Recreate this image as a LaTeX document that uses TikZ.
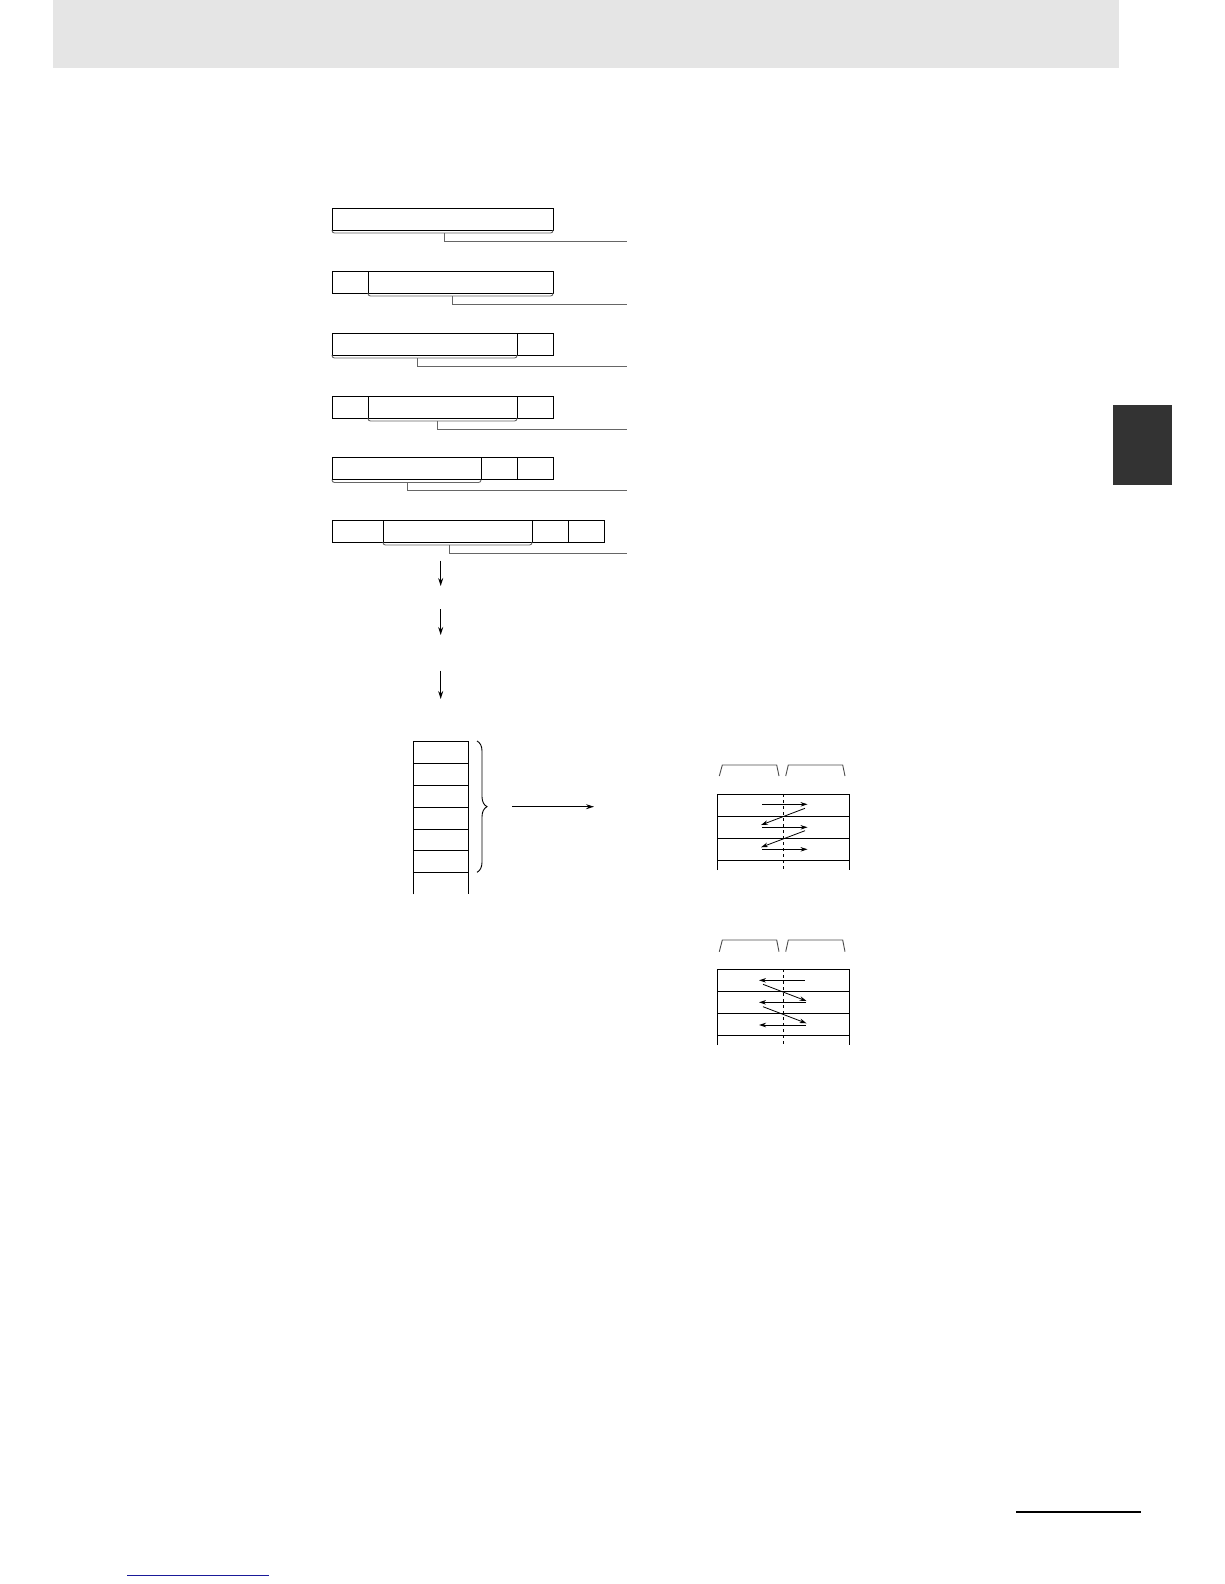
\documentclass[tikz,border=0pt]{standalone}
\usepackage{xcolor}
\usepackage{tikz}
\usetikzlibrary{positioning,arrows.meta,decorations.pathreplacing,calc}

\definecolor{headgray}{HTML}{E5E5E5}
\definecolor{tabgray}{HTML}{333333}
\definecolor{linkblue}{HTML}{1A1A99}

\begin{document}
\begin{tikzpicture}[x=1pt,y=-1pt,line width=1pt,
    cell/.style={draw,line width=1pt},
    brk/.style={draw=black!60,line width=0.9pt,rounded corners=2.5pt},
    lead/.style={draw=black!60,line width=0.9pt},
    flow/.style={-{Stealth[length=8pt,width=5pt]},line width=1pt},
    zig/.style={-{Stealth[length=7pt,width=4.5pt]},line width=0.8pt},
    bytecap/.style={draw=black!70,line width=0.9pt}]
    \useasboundingbox (0,0) rectangle (1224,1584);

    % Page frame
    \fill[headgray] (52.5,0) rectangle (1118.7,68.3);
    \fill[tabgray] (1113,405) rectangle (1172,485);
    \draw[line width=2pt] (1016,1512) -- (1141,1512);
    \draw[linkblue,line width=1pt] (127,1575) -- (269,1575);

    % Row 1
    \draw[cell] (332,208) rectangle (553,230);
    \draw[brk] (332,230) -- (332,233) -- (553,233) -- (553,230);
    \coordinate (t1) at (444,233);
    \coordinate (e1) at (627,241.5);
    \draw[lead] (t1) |- (e1);

    % Row 2
    \draw[cell] (332,271) rectangle (553,293);
    \draw[cell] (368,271) -- (368,293);
    \draw[brk] (368,293) -- (368,296) -- (553,296) -- (553,293);
    \coordinate (t2) at (452,296);
    \coordinate (e2) at (627,304.3);
    \draw[lead] (t2) |- (e2);

    % Row 3
    \draw[cell] (332,333) rectangle (553,355);
    \draw[cell] (517,333) -- (517,355);
    \draw[brk] (332,355) -- (332,358) -- (517,358) -- (517,355);
    \coordinate (t3) at (417,358);
    \coordinate (e3) at (627,366.7);
    \draw[lead] (t3) |- (e3);

    % Row 4
    \draw[cell] (332,396) rectangle (553,418);
    \draw[cell] (368,396) -- (368,418);
    \draw[cell] (517,396) -- (517,418);
    \draw[brk] (368,418) -- (368,421) -- (517,421) -- (517,418);
    \coordinate (t4) at (437,421);
    \coordinate (e4) at (627,429.3);
    \draw[lead] (t4) |- (e4);

    % Row 5
    \draw[cell] (332,457.5) rectangle (553,479.5);
    \draw[cell] (481,457.5) -- (481,479.5);
    \draw[cell] (517,457.5) -- (517,479.5);
    \draw[brk] (332,479.5) -- (332,482.5) -- (481,482.5) -- (481,479.5);
    \coordinate (t5) at (407,482.5);
    \coordinate (e5) at (627,490.5);
    \draw[lead] (t5) |- (e5);

    % Row 6
    \draw[cell] (332,520) rectangle (604,542);
    \draw[cell] (383,520) -- (383,542);
    \draw[cell] (532,520) -- (532,542);
    \draw[cell] (568,520) -- (568,542);
    \draw[brk] (383,542) -- (383,545) -- (532,545) -- (532,542);
    \coordinate (t6) at (449,545);
    \coordinate (e6) at (627,553.3);
    \draw[lead] (t6) |- (e6);

    % Down arrows
    \coordinate (d1s) at (440.7,560.7);
    \coordinate (d1e) at (440.7,586);
    \coordinate (d2s) at (440.7,609);
    \coordinate (d2e) at (440.7,635);
    \coordinate (d3s) at (440.7,670.7);
    \coordinate (d3e) at (440.7,699);
    \draw[flow] (d1s) -- (d1e);
    \draw[flow] (d2s) -- (d2e);
    \draw[flow] (d3s) -- (d3e);

    % Word stack
    \draw[cell] (413.3,894.3) -- (413.3,741) -- (468.3,741) -- (468.3,894.3);
    \draw[cell] (413.3,763) -- (468.3,763);
    \draw[cell] (413.3,785) -- (468.3,785);
    \draw[cell] (413.3,807) -- (468.3,807);
    \draw[cell] (413.3,829) -- (468.3,829);
    \draw[cell] (413.3,850.5) -- (468.3,850.5);
    \draw[cell] (413.3,872.3) -- (468.3,872.3);
    \draw[line width=0.9pt,decorate,decoration={brace,amplitude=10pt}]
        (477,741) -- (477,872.3);
    \coordinate (bs) at (512.3,806.7);
    \coordinate (be) at (594,806.7);
    \draw[flow] (bs) -- (be);

    % Byte order, upper table
    \draw[bytecap] (719.3,776) -- (722.3,765) -- (776.7,765) -- (779,776);
    \draw[bytecap] (785.7,776) -- (788.3,765) -- (842.7,765) -- (845,776);
    \draw[cell] (717.3,870) -- (717.3,794) -- (849.3,794) -- (849.3,870);
    \draw[cell] (717.3,816.3) -- (849.3,816.3);
    \draw[cell] (717.3,838.5) -- (849.3,838.5);
    \draw[cell] (717.3,860.3) -- (849.3,860.3);
    \draw[dashed,line width=0.9pt] (783.7,794) -- (783.7,870);
    \draw[zig] (762,804.3) -- (807.5,804.3);
    \draw[zig] (805,808.3) -- (761,825);
    \draw[zig] (762,827.3) -- (807.5,827.3);
    \draw[zig] (805,830.7) -- (761,847.3);
    \draw[zig] (762,849.3) -- (807.5,849.3);

    % Byte order, lower table
    \draw[bytecap] (719.3,951.7) -- (722.3,940) -- (776.7,940) -- (779,951.7);
    \draw[bytecap] (785.7,951.7) -- (788.3,940) -- (842.7,940) -- (845,951.7);
    \draw[cell] (717.3,1045) -- (717.3,969) -- (849.3,969) -- (849.3,1045);
    \draw[cell] (717.3,991.3) -- (849.3,991.3);
    \draw[cell] (717.3,1013.7) -- (849.3,1013.7);
    \draw[cell] (717.3,1035.3) -- (849.3,1035.3);
    \draw[dashed,line width=0.9pt] (783.7,969) -- (783.7,1045);
    \draw[zig] (804.5,980.3) -- (759,980.3);
    \draw[zig] (763,984.3) -- (806.5,1001);
    \draw[zig] (806,1002.3) -- (759,1002.3);
    \draw[zig] (763,1006.7) -- (806.5,1023.3);
    \draw[zig] (806,1025) -- (759,1025);
\end{tikzpicture}
\end{document}
